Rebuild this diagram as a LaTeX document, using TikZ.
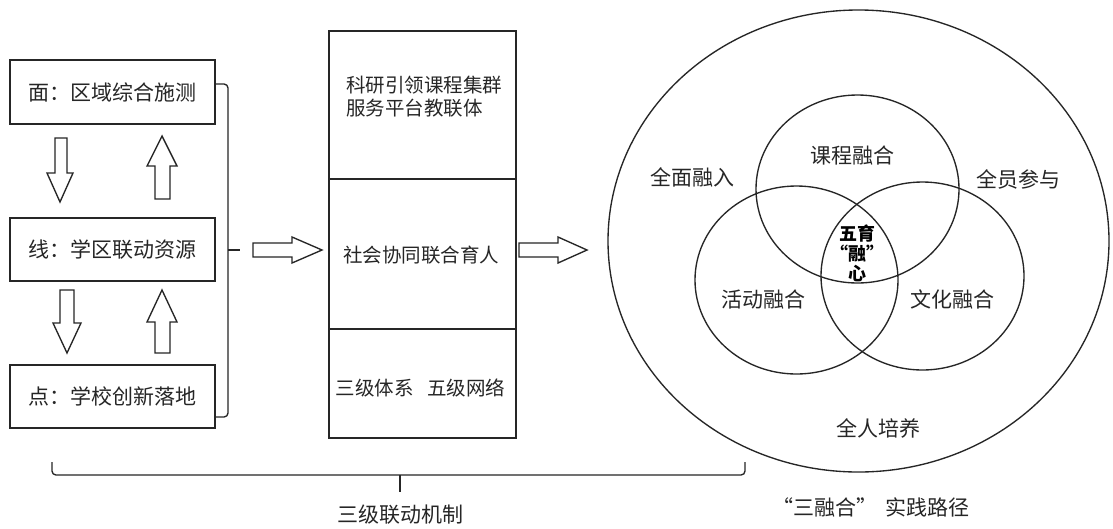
\documentclass[tikz,border=0pt]{standalone}
\usepackage{fontspec}
\setmainfont{Noto Sans CJK SC}
\begin{document}
\begin{tikzpicture}[x=1pt,y=-1pt,
  ln/.style={line width=1.35pt,draw=black!85},
  lbl/.style={inner sep=0pt,text=black!85,font=\fontsize{21pt}{25pt}\selectfont},
  mlbl/.style={inner sep=0pt,text=black!85,font=\fontsize{19.5pt}{23pt}\selectfont},
  lbox/.style={ln,rectangle,minimum width=205pt,inner sep=0pt},
  cbox/.style={ln,rectangle,minimum width=187pt,inner sep=0pt}]
\useasboundingbox (0,0) rectangle (1113,528);
\fill[white] (0,0) rectangle (1113,528);
% left boxes
\node[lbox,minimum height=64pt] (b1) at (112.5,92) {};
\node[lbox,minimum height=63pt] (b2) at (112.5,249.5) {};
\node[lbox,minimum height=63pt] (b3) at (112.5,396.5) {};
\node[lbl] (t1) at (112,92) {面：区域综合施测};
\node[lbl] (t2) at (112,249.5) {线：学区联动资源};
\node[lbl] (t3) at (112,396.5) {点：学校创新落地};
% block arrows between boxes
\draw[ln,line join=miter] (55,138) -- (67,138) -- (67,173) -- (73,173) -- (60,202) -- (47,173) -- (55,173) -- cycle;
\draw[ln,line join=miter] (155,199) -- (170,199) -- (170,166) -- (177,166) -- (162,136) -- (147,166) -- (155,166) -- cycle;
\draw[ln,line join=miter] (60,290) -- (74,290) -- (74,323) -- (81,323) -- (67,353) -- (53,323) -- (60,323) -- cycle;
\draw[ln,line join=miter] (155,353) -- (170,353) -- (170,322) -- (177,322) -- (162,290) -- (147,322) -- (155,322) -- cycle;
% right bracket of left group
\coordinate (brT) at (216,84);
\coordinate (brB) at (216,417);
\coordinate (brM) at (240,250);
\draw[ln,rounded corners=4pt] (brT) -- (228,84) -- (228,250) -- (228,417) -- (brB);
\draw[ln] (228,250) -- (brM);
% middle column
\node[cbox,minimum height=148pt] (c1) at (422.5,105) {};
\node[cbox,minimum height=150pt] (c2) at (422.5,254) {};
\node[cbox,minimum height=109pt] (c3) at (422.5,383.5) {};
\node[mlbl,align=left,anchor=west] (m1) at (346,96.5) {科研引领课程集群\\服务平台教联体};
\node[mlbl] (m2) at (421,255) {社会协同联合育人};
\node[mlbl] (m3) at (420.5,388) {三级体系\hspace{14pt}五级网络};
% wide arrows
\draw[ln,line join=miter] (253,243) -- (292,243) -- (292,237) -- (322,250) -- (292,263) -- (292,257) -- (253,257) -- cycle;
\draw[ln,line join=miter] (519,243) -- (558,243) -- (558,237) -- (587,250) -- (558,263) -- (558,257) -- (519,257) -- cycle;
% big ellipse and venn
\draw[ln] (858.5,241) ellipse [x radius=250.5pt,y radius=231pt];
\draw[ln] (857.5,189) ellipse [x radius=101.5pt,y radius=94pt];
\draw[ln] (796.5,280) ellipse [x radius=101.5pt,y radius=94pt];
\draw[ln] (922.5,276) ellipse [x radius=101.5pt,y radius=94pt];
\node[lbl] (v1) at (852,155) {课程融合};
\node[lbl] (v2) at (763,299) {活动融合};
\node[lbl] (v3) at (952,299) {文化融合};
\node[lbl] (o1) at (692,177) {全面融入};
\node[lbl] (o2) at (1018,179) {全员参与};
\node[lbl] (o3) at (878,428) {全人培养};
\node[inner sep=0pt,text=black,font=\fontsize{18pt}{20pt}\selectfont\bfseries,align=center] (core) at (857,253) {五育\\“融”\\心};
% bottom brace
\coordinate (bbL) at (52,462);
\coordinate (bbR) at (745,462);
\coordinate (bbM) at (400,492);
\draw[ln,rounded corners=4pt] (bbL) -- (52,475) -- (400,475) -- (745,475) -- (bbR);
\draw[ln] (400,475) -- (bbM);
\node[lbl] (cap1) at (400,515) {三级联动机制};
\node[lbl] (cap2) at (871,507) {“三融合”\hspace{8pt}实践路径};
\end{tikzpicture}
\end{document}
